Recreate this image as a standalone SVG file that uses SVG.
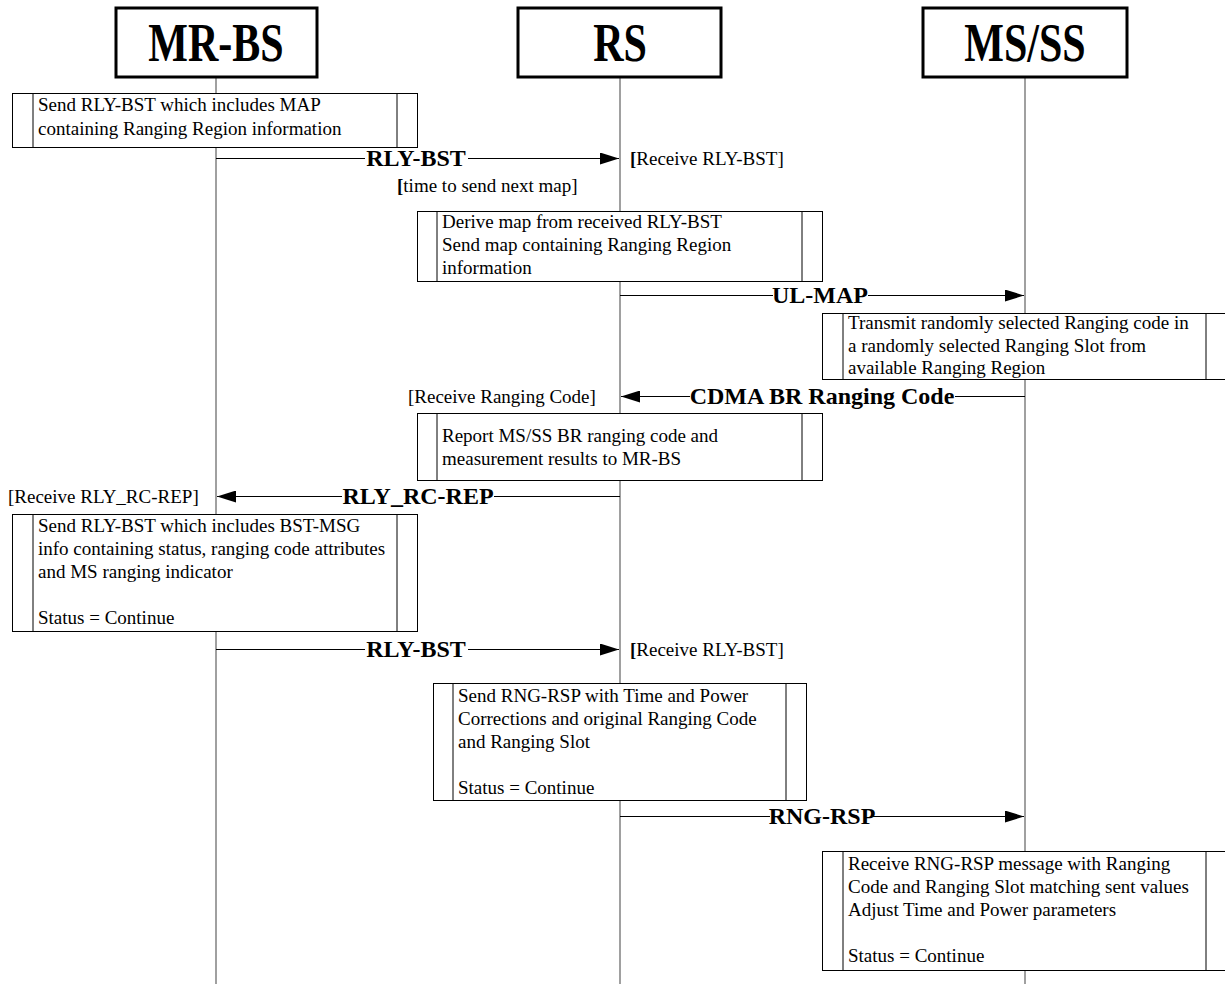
<svg xmlns="http://www.w3.org/2000/svg" width="1225" height="984" viewBox="0 0 1225 984">
<style>
.hdr{fill:#fff;stroke:#000;stroke-width:3}
.hdrt{font-family:"Liberation Serif",serif;font-weight:bold;font-size:42px;text-anchor:middle}
.life{stroke:#808080;stroke-width:1.5}
.box{fill:#fff;stroke:#000;stroke-width:1}
.t{font-family:"Liberation Serif",serif;font-size:19px}
.msg{stroke:#000;stroke-width:1}
.ml{font-family:"Liberation Serif",serif;font-weight:bold;font-size:24px;text-anchor:middle}
.mlbg{fill:#fff}
</style>
<defs>
<marker id="ah" markerWidth="20" markerHeight="12" refX="19" refY="6" orient="auto" markerUnits="userSpaceOnUse">
<path d="M0,0 L19,6 L0,12 Z" fill="#000"/>
</marker>
</defs>
<rect width="1225" height="984" fill="#fff"/>
<g id="lifelines">
<line class="life" x1="216" y1="77" x2="216" y2="984"/>
<line class="life" x1="620" y1="77" x2="620" y2="984"/>
<line class="life" x1="1025" y1="77" x2="1025" y2="984"/>
</g>
<g id="mrbs"><rect class="hdr" x="116" y="8" width="201" height="69"/><text class="hdrt" transform="translate(216,61) scale(1,1.3)">MR-BS</text></g>
<g id="rs"><rect class="hdr" x="518" y="8" width="203" height="69"/><text class="hdrt" transform="translate(620,61) scale(1,1.3)">RS</text></g>
<g id="msss"><rect class="hdr" x="923" y="8" width="204" height="69"/><text class="hdrt" transform="translate(1025,61) scale(1,1.3)">MS/SS</text></g>

<g id="task1"><rect class="box" x="12.5" y="93.5" width="405" height="54"/><line class="msg" x1="33" y1="93.5" x2="33" y2="147.5"/><line class="msg" x1="397" y1="93.5" x2="397" y2="147.5"/>
<text class="t" x="38" y="111">Send RLY-BST which includes MAP</text><text class="t" x="38" y="135">containing Ranging Region information</text></g>

<g id="task2"><rect class="box" x="417.5" y="211.5" width="405" height="70"/><line class="msg" x1="437" y1="211.5" x2="437" y2="281.5"/><line class="msg" x1="802" y1="211.5" x2="802" y2="281.5"/>
<text class="t" x="442" y="228">Derive map from received RLY-BST</text><text class="t" x="442" y="251">Send map containing Ranging Region</text><text class="t" x="442" y="274">information</text></g>

<g id="task3"><rect class="box" x="822.5" y="313.5" width="405" height="66"/><line class="msg" x1="843" y1="313.5" x2="843" y2="379.5"/><line class="msg" x1="1206" y1="313.5" x2="1206" y2="379.5"/>
<text class="t" x="848" y="329">Transmit randomly selected Ranging code in</text><text class="t" x="848" y="352">a randomly selected Ranging Slot from</text><text class="t" x="848" y="374">available Ranging Region</text></g>

<g id="task4"><rect class="box" x="417.5" y="413.5" width="405" height="67"/><line class="msg" x1="437" y1="413.5" x2="437" y2="480.5"/><line class="msg" x1="802" y1="413.5" x2="802" y2="480.5"/>
<text class="t" x="442" y="442">Report MS/SS BR ranging code and</text><text class="t" x="442" y="465">measurement results to MR-BS</text></g>

<g id="task5"><rect class="box" x="12.5" y="514.5" width="405" height="117"/><line class="msg" x1="33" y1="514.5" x2="33" y2="631.5"/><line class="msg" x1="397" y1="514.5" x2="397" y2="631.5"/>
<text class="t" x="38" y="532">Send RLY-BST which includes BST-MSG</text><text class="t" x="38" y="555">info containing status, ranging code attributes</text><text class="t" x="38" y="578">and MS ranging indicator</text><text class="t" x="38" y="624">Status = Continue</text></g>

<g id="task6"><rect class="box" x="433.5" y="683.5" width="373" height="117"/><line class="msg" x1="453" y1="683.5" x2="453" y2="800.5"/><line class="msg" x1="786" y1="683.5" x2="786" y2="800.5"/>
<text class="t" x="458" y="702">Send RNG-RSP with Time and Power</text><text class="t" x="458" y="725">Corrections and original Ranging Code</text><text class="t" x="458" y="748">and Ranging Slot</text><text class="t" x="458" y="794">Status = Continue</text></g>

<g id="task7"><rect class="box" x="822.5" y="851.5" width="405" height="119"/><line class="msg" x1="843" y1="851.5" x2="843" y2="970.5"/><line class="msg" x1="1206" y1="851.5" x2="1206" y2="970.5"/>
<text class="t" x="848" y="870">Receive RNG-RSP message with Ranging</text><text class="t" x="848" y="893">Code and Ranging Slot matching sent values</text><text class="t" x="848" y="916">Adjust Time and Power parameters</text><text class="t" x="848" y="962">Status = Continue</text></g>

<g id="conditions">
<text class="t" x="630" y="165"><tspan font-weight="bold">[</tspan>Receive RLY-BST]</text>
<text class="t" x="397" y="192"><tspan font-weight="bold">[</tspan>time to send next map]</text>
<text class="t" x="408" y="403">[Receive Ranging Code]</text>
<text class="t" x="8" y="503">[Receive RLY_RC-REP]</text>
<text class="t" x="630" y="656"><tspan font-weight="bold">[</tspan>Receive RLY-BST]</text>
</g>

<g id="connectors">
<line class="msg" x1="216" y1="158.5" x2="619" y2="158.5" marker-end="url(#ah)"/>
<rect class="mlbg" x="365" y="148" width="103" height="22"/><text class="ml" x="416" y="166">RLY-BST</text>
<line class="msg" x1="620" y1="295.5" x2="1024" y2="295.5" marker-end="url(#ah)"/>
<rect class="mlbg" x="773" y="285" width="95" height="22"/><text class="ml" x="820" y="303">UL-MAP</text>
<line class="msg" x1="1025" y1="396.5" x2="621" y2="396.5" marker-end="url(#ah)"/>
<rect class="mlbg" x="690" y="386" width="265" height="22"/><text class="ml" x="822" y="404">CDMA BR Ranging Code</text>
<line class="msg" x1="620" y1="496.5" x2="217" y2="496.5" marker-end="url(#ah)"/>
<rect class="mlbg" x="342" y="486" width="152" height="22"/><text class="ml" x="418" y="504">RLY_RC-REP</text>
<line class="msg" x1="216" y1="649.5" x2="619" y2="649.5" marker-end="url(#ah)"/>
<rect class="mlbg" x="365" y="639" width="103" height="22"/><text class="ml" x="416" y="657">RLY-BST</text>
<line class="msg" x1="620" y1="816.5" x2="1024" y2="816.5" marker-end="url(#ah)"/>
<rect class="mlbg" x="770" y="806" width="103" height="22"/><text class="ml" x="822" y="824">RNG-RSP</text>
</g>
</svg>
